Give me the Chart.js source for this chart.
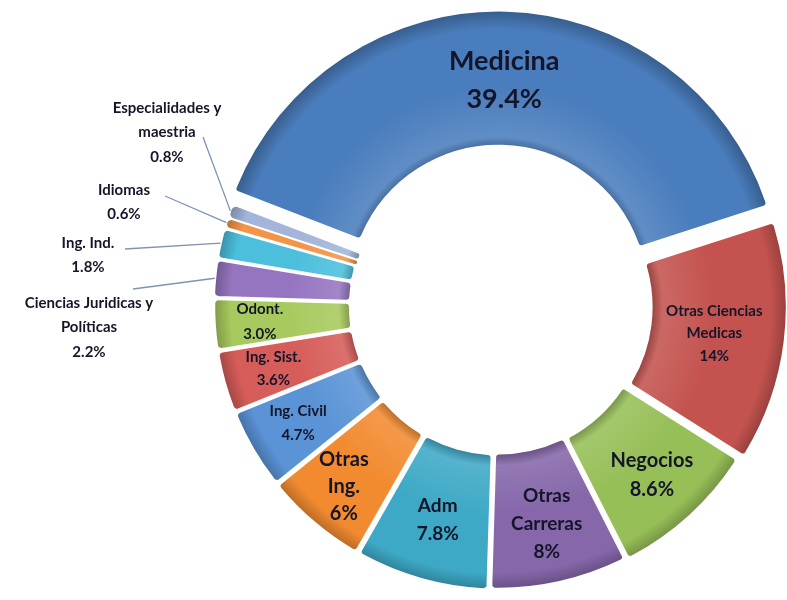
<!DOCTYPE html>
<html>
<head>
<meta charset="utf-8">
<script src="https://cdn.jsdelivr.net/npm/chart.js@4.4.1/dist/chart.umd.min.js"></script>
<style>
  html, body { margin: 0; padding: 0; background: #fff; }
  #wrap { width: 787px; height: 600px; }
</style>
</head>
<body>
<div id="wrap"><canvas id="myChart" width="787" height="600"></canvas></div>
<script>
//Data
let careers = ['Medicina', 'Otras Ciencias Medicas', 'Negocios', 'Otras Carreras', 'Adm', 'Otras Ing.',
  'Ing. Civil', 'Ing. Sist.', 'Odont.', 'Ciencias Juridicas y Políticas', 'Ing. Ind.', 'Idiomas',
  'Especialidades y maestria'];
let shares = [39.4, 14, 8.6, 8, 7.8, 6, 4.7, 3.6, 3.0, 2.2, 1.8, 0.6, 0.8];
let shareText = ['39.4%', '14%', '8.6%', '8%', '7.8%', '6%', '4.7%', '3.6%', '3.0%', '2.2%', '1.8%', '0.6%', '0.8%'];

//Look
let colors = ['#4a7dbd', '#c4534f', '#97bf58', '#8567aa', '#3ea9c6', '#f28b30',
  '#5a93d6', '#d65d59', '#a7ca5e', '#9575c0', '#4bbfdc', '#f39447', '#a3b5d9'];
let offsets = [48, 32, 14, 10, 12, 12, 10, 10, 10, 10, 10, 8, 8];
let borders = [4, 4, 4, 4, 4, 4, 3.5, 3.5, 3.5, 3, 3, 1.5, 1.5];
// label lines, size, line height, radial position in the ring (null = outside)
let labelLook = [
  {lines: ['Medicina'], size: 27, lh: 38, frac: 0.52},
  {lines: ['Otras Ciencias', 'Medicas'], size: 15, lh: 22.5, frac: 0.49},
  {lines: ['Negocios'], size: 20, lh: 29, frac: 0.6},
  {lines: ['Otras', 'Carreras'], size: 19, lh: 28, frac: 0.57},
  {lines: ['Adm'], size: 19, lh: 28, frac: 0.56},
  {lines: ['Otras', 'Ing.'], size: 20, lh: 27, frac: 0.67},
  {lines: ['Ing. Civil'], size: 15, lh: 24, frac: 0.63},
  {lines: ['Ing. Sist.'], size: 15, lh: 23, frac: 0.64},
  {lines: ['Odont.'], size: 15, lh: 25, frac: 0.68},
  null, null, null, null
];
// outside labels: text centre x, first line y, leader start
let outside = {
  9: {lines: ['Ciencias Juridicas y', 'Políticas'], x: 89, y: 303, lx: 133, ly: 289},
  10: {lines: ['Ing. Ind.'], x: 88, y: 243, lx: 125, ly: 249},
  11: {lines: ['Idiomas'], x: 124, y: 190, lx: 165, ly: 196},
  12: {lines: ['Especialidades y', 'maestria'], x: 167, y: 108, lx: 203, ly: 137}
};

const R = 280;
const CUT = 0.51;
const FONT = 'Lato, "Open Sans", sans-serif';
const TXT = '#15152a';

function shade(hex, amt) {
  let n = parseInt(hex.slice(1), 16);
  let r = n >> 16, g = (n >> 8) & 255, b = n & 255;
  let f = c => Math.round(amt < 0 ? c * (1 + amt) : c + (255 - c) * amt);
  return 'rgb(' + f(r) + ',' + f(g) + ',' + f(b) + ')';
}

function ringFill(context) {
  let chart = context.chart;
  let a = chart.chartArea;
  let base = colors[context.dataIndex];
  if (!a) return base;
  let cx = (a.left + a.right) / 2, cy = (a.top + a.bottom) / 2;
  let g = chart.ctx.createRadialGradient(cx, cy, R * CUT, cx, cy, R + 6);
  g.addColorStop(0, shade(base, -0.3));
  g.addColorStop(0.1, shade(base, 0.12));
  g.addColorStop(0.45, base);
  g.addColorStop(0.85, base);
  g.addColorStop(1, shade(base, -0.3));
  return g;
}

let labelPlugin = {
  id: 'sliceLabels',
  afterDatasetsDraw(chart) {
    let ctx = chart.ctx;
    let arcs = chart.getDatasetMeta(0).data;
    ctx.save();
    ctx.textAlign = 'center';
    ctx.textBaseline = 'middle';
    ctx.fillStyle = TXT;
    arcs.forEach((arc, i) => {
      let p = arc.getProps(['x', 'y', 'startAngle', 'endAngle', 'innerRadius', 'outerRadius'], true);
      let mid = (p.startAngle + p.endAngle) / 2;
      let t = offsets[i] / 4;
      let look = labelLook[i];
      if (look) {
        let r = p.innerRadius + look.frac * (p.outerRadius - p.innerRadius) + t;
        let cx = p.x + Math.cos(mid) * r;
        let cy = p.y + Math.sin(mid) * r;
        let lines = look.lines.concat([shareText[i]]);
        ctx.font = 'bold ' + look.size + 'px ' + FONT;
        let top = cy - (lines.length - 1) * look.lh / 2;
        lines.forEach((s, k) => ctx.fillText(s, cx, top + k * look.lh));
      } else {
        let o = outside[i];
        let ex = p.x + Math.cos(mid) * (p.outerRadius + t + 2);
        let ey = p.y + Math.sin(mid) * (p.outerRadius + t + 2);
        ctx.strokeStyle = '#7f93b3';
        ctx.lineWidth = 1.3;
        ctx.beginPath();
        ctx.moveTo(o.lx, o.ly);
        ctx.lineTo(ex, ey);
        ctx.stroke();
        ctx.font = 'bold 15px ' + FONT;
        let lines = o.lines.concat([shareText[i]]);
        lines.forEach((s, k) => ctx.fillText(s, o.x, o.y + k * 24.5));
      }
    });
    ctx.restore();
  }
};

var ctx = document.getElementById('myChart').getContext('2d');
var myChart = new Chart(ctx, {
  type: 'doughnut',
  data: {
    labels: careers,
    datasets: [{
      data: shares,
      backgroundColor: ringFill,
      borderColor: '#ffffff',
      borderWidth: borders,
      borderRadius: 5,
      offset: offsets
    }]
  },
  options: {
    responsive: false,
    animation: false,
    rotation: -69,
    cutout: (CUT * 100) + '%',
    radius: R,
    layout: { padding: { left: 209, top: 12 } },
    plugins: {
      legend: { display: false },
      tooltip: { enabled: false }
    }
  },
  plugins: [labelPlugin]
});
</script>
</body>
</html>
